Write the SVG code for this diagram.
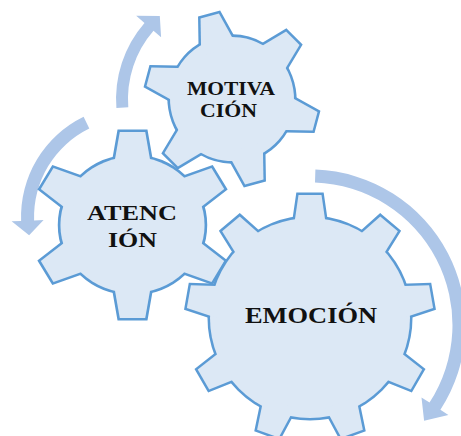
<svg xmlns="http://www.w3.org/2000/svg" xmlns:xlink="http://www.w3.org/1999/xlink" width="461" height="436" viewBox="0 0 461 436">
<defs>
<style>
.edge{fill:#5b9bd5;stroke:#5b9bd5;stroke-width:5;stroke-linejoin:miter}
.body{fill:#dce8f5;stroke:none}
.arrow{fill:#adc6e8;stroke:none}
.lbl{font-family:"Liberation Serif","Times New Roman",serif;font-weight:bold;fill:#111;text-anchor:middle}
</style>
<g id="shapeM">
<circle r="62"/>
<path id="tM" d="M-9.5,-86H9.5L18.5,-50H-18.5Z"/>
<use href="#tM" transform="rotate(60)"/>
<use href="#tM" transform="rotate(120)"/>
<use href="#tM" transform="rotate(180)"/>
<use href="#tM" transform="rotate(240)"/>
<use href="#tM" transform="rotate(300)"/>
</g>
<g id="shapeA">
<circle r="68"/>
<path id="tA" d="M-12,-93H12L17.8,-58H-17.8Z"/>
<use href="#tA" transform="rotate(60)"/>
<use href="#tA" transform="rotate(120)"/>
<use href="#tA" transform="rotate(180)"/>
<use href="#tA" transform="rotate(240)"/>
<use href="#tA" transform="rotate(300)"/>
</g>
<g id="shapeE">
<circle r="100"/>
<path id="tE" d="M-11.5,-123H11.5L16.3,-90H-16.3Z"/>
<use href="#tE" transform="rotate(40)"/>
<use href="#tE" transform="rotate(80)"/>
<use href="#tE" transform="rotate(120)"/>
<use href="#tE" transform="rotate(160)"/>
<use href="#tE" transform="rotate(200)"/>
<use href="#tE" transform="rotate(240)"/>
<use href="#tE" transform="rotate(280)"/>
<use href="#tE" transform="rotate(320)"/>
</g>
</defs>
<rect width="461" height="436" fill="#ffffff"/>
<g id="connectors">
<path id="arrow-motivacion" class="arrow" d="M116.4,108.1 A116,116 0 0 1 144.5,22.9 L136.2,15.7 L159.8,16.0 L161.1,37.3 L153.5,30.8 A104,104 0 0 0 128.3,107.2 Z"/>
<path id="arrow-atencion" class="arrow" d="M83.6,116.8 A111.5,111.5 0 0 0 21.1,220.9 L11.6,221.2 L29.1,235.2 L43.6,220.1 L34.1,220.4 A98.5,98.5 0 0 1 89.3,128.5 Z"/>
<path id="arrow-emocion" class="arrow" d="M315.4,169.6 A155.5,155.5 0 0 1 440.4,409.7 L448.4,414.9 L424.1,420.8 L421.5,397.4 L429.5,402.6 A142.5,142.5 0 0 0 315.0,182.6 Z"/>
</g>
<g id="atencion">
<g transform="translate(132.5,225) scale(1.06,1)">
<use href="#shapeA" class="edge"/>
<use href="#shapeA" class="body"/>
</g>
<text class="lbl" x="132" y="220" font-size="22" textLength="90" lengthAdjust="spacingAndGlyphs">ATENC</text>
<text class="lbl" x="132.5" y="247" font-size="22" textLength="49" lengthAdjust="spacingAndGlyphs">IÓN</text>
</g>
<g id="motivacion">
<g transform="translate(232,99) rotate(-15)">
<use href="#shapeM" class="edge"/>
<use href="#shapeM" class="body"/>
</g>
<text class="lbl" x="231" y="95" font-size="19" textLength="88" lengthAdjust="spacingAndGlyphs">MOTIVA</text>
<text class="lbl" x="228.5" y="117" font-size="19" textLength="57" lengthAdjust="spacingAndGlyphs">CIÓN</text>
</g>
<g id="emocion">
<g transform="translate(310,318)">
<use href="#shapeE" class="edge"/>
<use href="#shapeE" class="body"/>
</g>
<text class="lbl" x="311" y="323" font-size="24" textLength="132" lengthAdjust="spacingAndGlyphs">EMOCIÓN</text>
</g>
</svg>
